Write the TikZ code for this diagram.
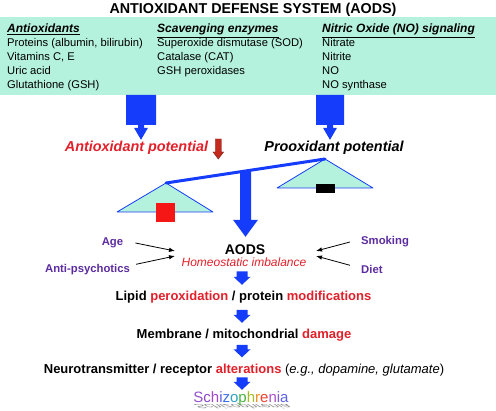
\documentclass[tikz,border=0pt]{standalone}
\usepackage{fontspec}
\setmainfont{Liberation Sans}
\usetikzlibrary{arrows.meta, calc, positioning}
\definecolor{aodsmint}{RGB}{180,242,222}
\definecolor{aodsblue}{RGB}{20,60,250}
\definecolor{aodsred}{RGB}{226,32,42}
\definecolor{aodspurple}{RGB}{92,44,160}
\definecolor{dropred}{RGB}{196,42,30}
\definecolor{weightred}{RGB}{245,22,22}

\newcommand{\gapS}{0pt}
\newcommand{\gapE}{0pt}
\tikzset{
  gaps/.code 2 args={\def\gapS{#1}\def\gapE{#2}},
  blockdown/.style n args={4}{to path={let \p1=(\tikztostart), \p2=(\tikztotarget) in
    (\x1-#1,\y1-\gapS) -- (\x1+#1,\y1-\gapS) -- (\x1+#1,\y2+\gapE+#3+#4)
    -- (\x1+3pt,\y2+\gapE+#3+#4) -- (\x1+3pt,\y2+\gapE+#3) -- (\x1+#2,\y2+\gapE+#3)
    -- (\x1,\y2+\gapE) -- (\x1-#2,\y2+\gapE+#3) -- (\x1-3pt,\y2+\gapE+#3)
    -- (\x1-3pt,\y2+\gapE+#3+#4) -- (\x1-#1,\y2+\gapE+#3+#4) -- cycle}},
  stepdown/.style={aodsblue, gaps={3pt}{6.5pt}, blockdown={5.5pt}{8.5pt}{8pt}{0pt}}
}

\begin{document}
\begin{tikzpicture}[x=1pt, y=-1pt,
  colhead/.style={anchor=base west, inner sep=0, font=\fontsize{12}{14}\selectfont\bfseries\itshape},
  listitem/.style={anchor=base west, inner sep=0, font=\fontsize{11.2}{13}\selectfont},
  potlabel/.style={anchor=base, inner sep=0, text height=10.5pt, font=\fontsize{14.4}{16}\selectfont\bfseries\itshape},
  factor/.style={inner sep=0, text height=8.5pt, text depth=2.5pt, text=aodspurple, font=\fontsize{11.3}{13}\selectfont\bfseries},
  steptext/.style={anchor=base, inner sep=0, text height=9.5pt, text depth=2.8pt, font=\fontsize{13}{15}\selectfont\bfseries},
  factorarrow/.style={draw=black, line width=0.8pt, -{Latex[length=6pt, width=4.5pt]}},
  pan/.style={fill=aodsmint, draw=aodsblue, line width=0.8pt, line join=round}]
  \useasboundingbox (0,0) rectangle (496,411);

  % Defense system box
  \node[anchor=base, inner sep=0, font=\fontsize{14.3}{16}\selectfont\bfseries] (title) at (253,14) {ANTIOXIDANT DEFENSE SYSTEM (AODS)};
  \node[fill=aodsmint, inner sep=0, outer sep=0, minimum width=496pt, minimum height=78pt, anchor=north west] (defbox) at (0,17) {};

  \node[colhead] (hdaox) at (7,33) {\underline{Antioxidants}};
  \foreach \t [count=\i] in {{Proteins (albumin, bilirubin)}, {Vitamins C, E}, {Uric acid}, {Glutathione (GSH)}}
    \node[listitem] (aox\i) at (7,33+14*\i) {\t};

  \node[colhead] (hdenz) at (157,33) {\underline{Scavenging enzymes}};
  \foreach \t [count=\i] in {{Superoxide dismutase (SOD)}, {Catalase (CAT)}, {GSH peroxidases}}
    \node[listitem] (enz\i) at (157,33+14*\i) {\t};

  \node[colhead] (hdno) at (322,33) {\underline{Nitric Oxide (NO) signaling}};
  \foreach \t [count=\i] in {Nitrate, Nitrite, NO, NO synthase}
    \node[listitem] (no\i) at (322,33+14*\i) {\t};

  % Potentials
  \node[potlabel, text=aodsred] (antipot) at (136.5,152) {Antioxidant potential};
  \node[potlabel] (proxpot) at (334,152) {Prooxidant potential};

  \fill[aodsblue, gaps={0pt}{1.5pt}, blockdown={15pt}{7pt}{12pt}{3pt}] (141,0 |- defbox.south) to (141,0 |- antipot.north);
  \fill[aodsblue, gaps={0pt}{1.5pt}, blockdown={14pt}{7pt}{12pt}{3pt}] (330,0 |- defbox.south) to (330,0 |- proxpot.north);
  \filldraw[dropred, draw=dropred!60!black, line width=0.4pt, gaps={0pt}{0pt}, blockdown={3pt}{5.3pt}{7pt}{0pt}]
    ([xshift=10pt,yshift=13pt]antipot.base east) to ([xshift=10pt,yshift=-7pt]antipot.base east);

  % Balance
  \coordinate (pivotL) at (166,183);
  \coordinate (pivotR) at (325,159);
  \filldraw[pan] (pivotL) -- ++(-49,29) -- ++(96,0) -- cycle;
  \fill[weightred] ($(pivotL)+(-10,20)$) rectangle ++(19,19);
  \filldraw[pan] (pivotR) -- ++(-48,29) -- ++(96,0) -- cycle;
  \fill[black] ($(pivotR)+(-9,25)$) rectangle ++(19,9);
  \draw[aodsblue, line width=3pt, line cap=round] (pivotL) -- (pivotR);

  % AODS and modifying factors
  \node[anchor=base, inner sep=0, text height=10pt, font=\fontsize{14}{16}\selectfont\bfseries] (aods) at (245,255) {AODS};
  \node[steptext, text=aodsred, font=\fontsize{12}{14}\selectfont\itshape] (homeo) at (244,267) {Homeostatic imbalance};
  \fill[aodsblue, gaps={0pt}{8pt}, blockdown={5.5pt}{12.5pt}{17pt}{0pt}] ($(pivotL)!0.5!(pivotR)$) to (aods.north);

  \node[factor, anchor=base] (age) at (112.5,246) {Age};
  \node[factor, anchor=base] (antipsy) at (87.5,273) {Anti-psychotics};
  \node[factor, anchor=base west] (smoking) at (361,245) {Smoking};
  \node[factor, anchor=base west] (diet) at (361,274) {Diet};
  \coordinate (hitL1) at (175,251);
  \coordinate (hitL2) at (175,256);
  \coordinate (hitR1) at (316,251);
  \coordinate (hitR2) at (316,256);
  \draw[factorarrow] ([xshift=12pt]age.east) -- (hitL1);
  \draw[factorarrow] ([xshift=6pt]antipsy.north east) -- (hitL2);
  \draw[factorarrow] ([xshift=-11pt]smoking.west) -- (hitR1);
  \draw[factorarrow] ([xshift=-11pt]diet.north west) -- (hitR2);

  % Cascade
  \node[steptext] (lipid) at (243.5,301) {Lipid \textcolor{aodsred}{peroxidation} / protein \textcolor{aodsred}{modifications}};
  \node[steptext] (membrane) at (244,339) {Membrane / mitochondrial \textcolor{aodsred}{damage}};
  \node[steptext] (neuro) at (244,374) {Neurotransmitter / receptor \textcolor{aodsred}{alterations} {\mdseries(\textit{e.g., dopamine, glutamate})}};
  \node[anchor=base, inner sep=0, text=black!45, font=\fontsize{15}{17}\selectfont, yscale=-0.4, xslant=0.6, transform shape] (schizoshade) at (240,404.5) {Schizophrenia};
  \node[anchor=base, inner sep=0, text height=11pt, font=\fontsize{15}{17}\selectfont] (schizo) at (241,403) {%
    \textcolor[RGB]{150,80,205}{S}\textcolor[RGB]{140,70,195}{c}\textcolor[RGB]{165,70,205}{h}\textcolor[RGB]{90,90,230}{i}\textcolor[RGB]{60,110,230}{z}\textcolor[RGB]{50,160,195}{o}\textcolor[RGB]{70,180,60}{p}\textcolor[RGB]{165,190,40}{h}\textcolor[RGB]{240,140,30}{r}\textcolor[RGB]{235,65,45}{e}\textcolor[RGB]{175,80,200}{n}\textcolor[RGB]{130,90,220}{i}\textcolor[RGB]{90,100,230}{a}};

  \fill[stepdown, gaps={1.5pt}{6.5pt}] (242,0 |- homeo.south) to (242,0 |- lipid.north);
  \fill[stepdown, gaps={6pt}{6.5pt}] (242,0 |- lipid.south) to (242,0 |- membrane.north);
  \fill[stepdown, gaps={3pt}{7pt}] (242,0 |- membrane.south) to (242,0 |- neuro.north);
  \fill[stepdown, gaps={0.5pt}{2pt}] (242,0 |- neuro.south) to (242,0 |- schizo.north);
\end{tikzpicture}
\end{document}
